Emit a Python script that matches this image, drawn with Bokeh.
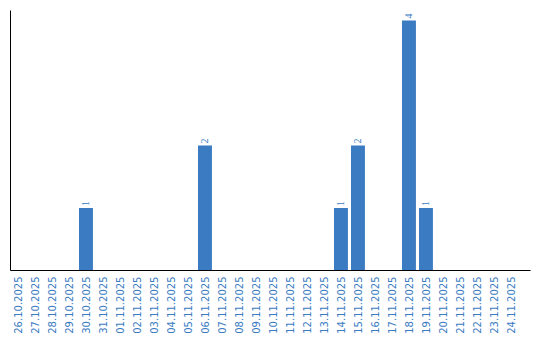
import math
from bokeh.plotting import figure
from bokeh.models import ColumnDataSource, Range1d, FixedTicker, LabelSet
from bokeh.embed import file_html
from bokeh.resources import INLINE

dates = ["26.10.2025", "27.10.2025", "28.10.2025", "29.10.2025", "30.10.2025",
         "31.10.2025", "01.11.2025", "02.11.2025", "03.11.2025", "04.11.2025",
         "05.11.2025", "06.11.2025", "07.11.2025", "08.11.2025", "09.11.2025",
         "10.11.2025", "11.11.2025", "12.11.2025", "13.11.2025", "14.11.2025",
         "15.11.2025", "16.11.2025", "17.11.2025", "18.11.2025", "19.11.2025",
         "20.11.2025", "21.11.2025", "22.11.2025", "23.11.2025", "24.11.2025"]
counts = [0, 0, 0, 0, 1, 0, 0, 0, 0, 0, 0, 2, 0, 0, 0, 0, 0, 0, 0, 1,
          2, 0, 0, 4, 1, 0, 0, 0, 0, 0]

BLUE = "#3a7bc2"
FONT = "DejaVu Sans"

idx = list(range(len(dates)))
src = ColumnDataSource(dict(x=idx, top=counts))
nz = [i for i in idx if counts[i] > 0]
lab_src = ColumnDataSource(dict(x=nz, y=[counts[i] for i in nz],
                                t=[str(counts[i]) for i in nz]))

p = figure(width=540, height=340, output_backend="svg", toolbar_location=None,
           x_range=Range1d(-0.44, 30.15), y_range=Range1d(0, 4.16),
           min_border_left=10, min_border_right=10, min_border_top=10,
           min_border_bottom=70)
p.outline_line_color = None
p.grid.visible = False
p.background_fill_color = "white"
p.border_fill_color = "white"

p.vbar(x="x", top="top", width=0.82, source=src, color=BLUE, line_color=None)

labels = LabelSet(x="x", y="y", text="t", source=lab_src, angle=math.pi / 2,
                  text_align="left", text_baseline="middle", y_offset=2,
                  text_color=BLUE, text_font_size="10px", text_font=FONT)
p.add_layout(labels)

xa = p.xaxis[0]
xa.ticker = FixedTicker(ticks=idx)
xa.major_label_overrides = {i: d for i, d in zip(idx, dates)}
xa.major_label_orientation = math.pi / 2
xa.major_label_text_color = BLUE
xa.major_label_text_font = FONT
xa.major_label_text_font_size = "10px"
xa.major_label_standoff = 0
xa.major_tick_line_color = None
xa.minor_tick_line_color = None
xa.axis_line_color = "black"
xa.axis_line_width = 1

ya = p.yaxis[0]
ya.ticker = FixedTicker(ticks=[])
ya.major_label_text_font_size = "0px"
ya.major_tick_line_color = None
ya.minor_tick_line_color = None
ya.major_label_standoff = 0
ya.axis_line_color = "black"
ya.axis_line_width = 1

open("out.html", "w").write(file_html(p, INLINE))
